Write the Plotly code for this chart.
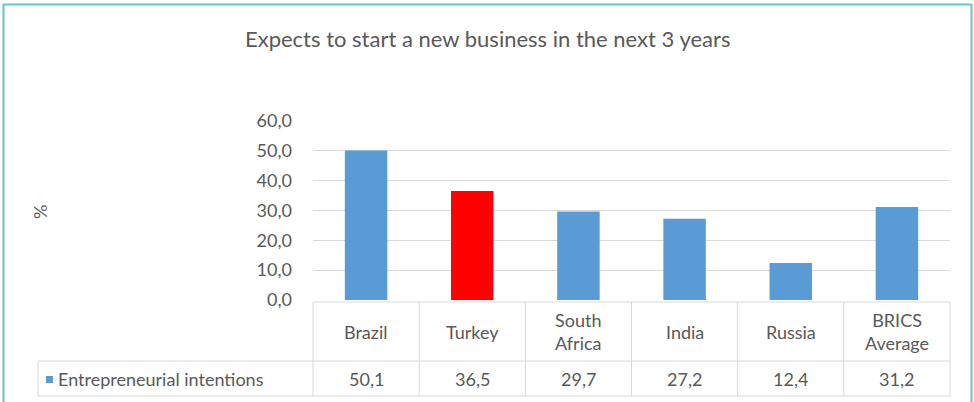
import plotly.graph_objects as go

# Chart data
categories = ["Brazil", "Turkey", "South<br>Africa", "India", "Russia", "BRICS<br>Average"]
values = [50.1, 36.5, 29.7, 27.2, 12.4, 31.2]
bar_colors = ["#5b9bd5", "#ff0000", "#5b9bd5", "#5b9bd5", "#5b9bd5", "#5b9bd5"]
series_name = "Entrepreneurial intentions"
tick_vals = [0, 10, 20, 30, 40, 50, 60]
tick_text = ["0,0", "10,0", "20,0", "30,0", "40,0", "50,0", "60,0"]

W, H = 974, 402
PL, PR, PT, PB = 313, 950, 121, 300  # plot area in pixels
TEXT = "#595959"
GRID = "#d9d9d9"
FONT = "Lato"
FS = 18

n = len(categories)
x_pos = list(range(n))
x_range = [-0.5, n - 0.5]


def px(xpix):
    return (xpix - PL) / (PR - PL)


def py(ypix):
    return (PB - ypix) / (PB - PT)


def cat_to_paper(v):
    return (v - x_range[0]) / (x_range[1] - x_range[0])


fig = go.Figure(
    go.Bar(
        x=x_pos,
        y=values,
        marker=dict(color=bar_colors, line=dict(width=0)),
        width=0.4,
        hoverinfo="y",
        showlegend=False,
    )
)

shapes = []
line = dict(color=GRID, width=1)

# data table grid
row1_top, row2_top, row2_bot = 302, 361, 396
table_left = 38
shapes.append(dict(type="line", xref="paper", yref="paper", x0=0, x1=1,
                   y0=py(row1_top), y1=py(row1_top), line=line))
shapes.append(dict(type="line", xref="paper", yref="paper", x0=px(table_left), x1=1,
                   y0=py(row2_top), y1=py(row2_top), line=line))
shapes.append(dict(type="line", xref="paper", yref="paper", x0=px(table_left), x1=1,
                   y0=py(row2_bot), y1=py(row2_bot), line=line))
shapes.append(dict(type="line", xref="paper", yref="paper", x0=px(table_left), x1=px(table_left),
                   y0=py(row2_top), y1=py(row2_bot), line=line))
for b in range(n + 1):
    xb = cat_to_paper(b - 0.5)
    shapes.append(dict(type="line", xref="paper", yref="paper", x0=xb, x1=xb,
                       y0=py(row1_top), y1=py(row2_bot), line=line))

# legend key in the table
shapes.append(dict(type="rect", xref="paper", yref="paper",
                   x0=px(46), x1=px(53), y0=py(376), y1=py(383),
                   fillcolor="#5b9bd5", line=dict(width=0)))

# outer frame (top, left, right)
frame = dict(color="#66c2c8", width=2)
shapes.append(dict(type="line", xref="paper", yref="paper", x0=px(3), x1=px(972),
                   y0=py(4.5), y1=py(4.5), line=frame))
shapes.append(dict(type="line", xref="paper", yref="paper", x0=px(3.5), x1=px(3.5),
                   y0=py(4), y1=py(402), line=frame))
shapes.append(dict(type="line", xref="paper", yref="paper", x0=px(971.5), x1=px(971.5),
                   y0=py(4), y1=py(402), line=frame))

annotations = []
for i, (cat, v) in enumerate(zip(categories, values)):
    xc = cat_to_paper(i)
    annotations.append(dict(x=xc, y=py((row1_top + row2_top) / 2), xref="paper", yref="paper",
                            text=cat, showarrow=False, xanchor="center", yanchor="middle",
                            font=dict(size=FS, color=TEXT, family=FONT)))
    annotations.append(dict(x=xc, y=py((row2_top + row2_bot) / 2), xref="paper", yref="paper",
                            text=f"{v:.1f}".replace(".", ","), showarrow=False,
                            xanchor="center", yanchor="middle",
                            font=dict(size=FS, color=TEXT, family=FONT)))

annotations.append(dict(x=px(56), y=py((row2_top + row2_bot) / 2), xref="paper", yref="paper",
                        text=series_name, showarrow=False, xanchor="left", yanchor="middle",
                        font=dict(size=FS, color=TEXT, family=FONT)))

annotations.append(dict(x=px(40), y=py(212), xref="paper", yref="paper", text="%",
                        textangle=-90, showarrow=False, xanchor="center", yanchor="middle",
                        font=dict(size=FS, color=TEXT, family=FONT)))

annotations.append(dict(x=px(487), y=py(38), xref="paper", yref="paper",
                        text="Expects to start a new business in the next 3 years",
                        showarrow=False, xanchor="center", yanchor="middle",
                        font=dict(size=22, color=TEXT, family=FONT)))

fig.update_layout(
    width=W,
    height=H,
    margin=dict(l=PL, r=W - PR, t=PT, b=H - PB, pad=0),
    paper_bgcolor="white",
    plot_bgcolor="white",
    xaxis=dict(range=x_range, showticklabels=False, showgrid=False, zeroline=False,
               showline=False, ticks=""),
    yaxis=dict(range=[0, 60], tickvals=tick_vals, ticktext=tick_text, showgrid=True,
               gridcolor=GRID, gridwidth=1, zeroline=False, showline=False, ticks="",
               ticklabelstandoff=20,
               tickfont=dict(size=FS, color=TEXT, family=FONT)),
    shapes=shapes,
    annotations=annotations,
    font=dict(family=FONT, color=TEXT),
)

fig.write_html("out.html")
